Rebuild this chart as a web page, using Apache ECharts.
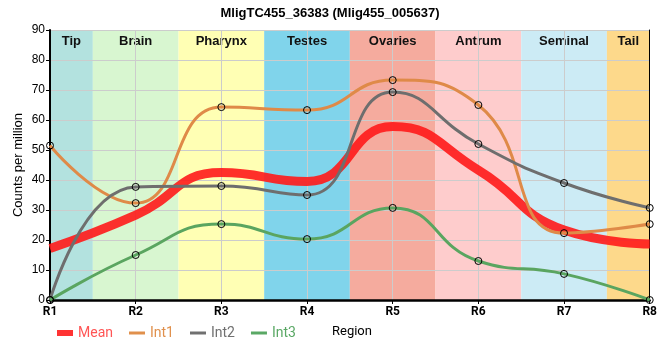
<!DOCTYPE html>
<html>
<head>
<meta charset="utf-8">
<script src="https://cdn.jsdelivr.net/npm/echarts@6/dist/echarts.min.js"></script>
<style>html,body{margin:0;padding:0;background:#fff}#c{width:660px;height:360px}</style>
</head>
<body>
<div id="c"></div>
<script>
var positions = [1, 2, 3, 4, 5, 6, 7, 8];
var tickLabels = ['R1', 'R2', 'R3', 'R4', 'R5', 'R6', 'R7', 'R8'];
var meanValues = [17.2, 28.3, 42.5, 39.5, 57.8, 43.3, 23.3, 18.7];
var int1Values = [51.5, 32.3, 64.3, 63.3, 73.3, 65.0, 22.3, 25.3];
var int2Values = [0, 37.7, 38.0, 35.0, 69.3, 52.0, 39.0, 30.7];
var int3Values = [0, 15.0, 25.3, 20.3, 30.7, 13.0, 8.7, 0];
var bandNames = ['Tip', 'Brain', 'Pharynx', 'Testes', 'Ovaries', 'Antrum', 'Seminal', 'Tail'];
var bandStarts = [1, 1.5, 2.5, 3.5, 4.5, 5.5, 6.5, 7.5];
var bandEnds = [1.5, 2.5, 3.5, 4.5, 5.5, 6.5, 7.5, 8];
var bandColors = ['#b3e2df', '#d8f6d0', '#ffffb4', '#80d4eb', '#f5ab9e', '#fecccc', '#ccebf5', '#fdd98b'];

function pairs(vals) { return positions.map(function (x, i) { return [x, vals[i]]; }); }

var chart = echarts.init(document.getElementById('c'), null, {renderer: 'canvas'});
var font = 'Liberation Sans, Arial, sans-serif';
var font2 = 'Roboto, Liberation Sans, sans-serif';
var markerStyle = {color: 'rgba(0,0,0,0)', borderColor: '#000', borderWidth: 1};

function lineSeries(name, vals, color, width, showSymbol, opacity) {
  return {
    name: name, type: 'line', data: pairs(vals), z: 4,
    smooth: 0.5,
    symbol: showSymbol ? 'circle' : 'none', symbolSize: 7,
    itemStyle: markerStyle,
    lineStyle: {color: color, width: width, opacity: opacity},
    emphasis: {disabled: true}, silent: true
  };
}

var bandData = bandNames.map(function (n, i) {
  return [{name: n, xAxis: bandStarts[i], itemStyle: {color: bandColors[i]}}, {xAxis: bandEnds[i]}];
});

var thin = 'path://M0,0M16,7M0,2H16V5H0Z';
var box = 'path://M0,0.5H16V6.5H0Z';

chart.setOption({
  animation: false,
  title: {text: 'MligTC455_36383 (Mlig455_005637)', left: 'center', top: 2,
    textStyle: {fontFamily: font, fontSize: 13, fontWeight: 'bold', color: '#000'}},
  grid: {left: 50, right: 10, top: 30, bottom: 60},
  xAxis: {type: 'value', min: 1, max: 8, interval: 1, z: 2,
    axisLine: {show: true, onZero: false, lineStyle: {color: '#000', width: 2.5}},
    axisTick: {show: true, length: 4, lineStyle: {color: '#000'}},
    axisLabel: {fontFamily: font2, fontSize: 12, fontWeight: 'bold', color: '#000', margin: 6,
      formatter: function (v) { return tickLabels[positions.indexOf(v)] || ''; }},
    splitLine: {show: true, lineStyle: {color: '#cccccc', width: 1}}},
  yAxis: [{type: 'value', min: 0, max: 90, interval: 10, z: 2,
    name: 'Counts per million', nameLocation: 'middle', nameGap: 25, nameRotate: 90,
    nameMoveOverlap: false,
    nameTextStyle: {fontFamily: font, fontSize: 13, color: '#000'},
    axisLine: {show: true, lineStyle: {color: '#000', width: 2}},
    axisTick: {show: true, length: 4, lineStyle: {color: '#000'}},
    axisLabel: {fontFamily: font, fontSize: 12, color: '#000', margin: 5},
    splitLine: {show: true, lineStyle: {color: '#cccccc', width: 1}}},
   {type: 'value', min: 0, max: 90, position: 'right', z: 2,
    axisLine: {show: true, lineStyle: {color: '#000', width: 1}},
    axisTick: {show: false}, axisLabel: {show: false}, splitLine: {show: false}}],
  legend: {left: 52, top: 321, itemWidth: 16, itemHeight: 7, itemGap: 16,
    textStyle: {fontFamily: font2, fontSize: 14},
    data: [
      {name: 'Mean', icon: box, itemStyle: {color: '#ff3333', borderWidth: 0}, textStyle: {color: '#ff5555'}},
      {name: 'Int1', icon: thin, itemStyle: {color: '#e0904c', borderWidth: 0}, textStyle: {color: '#e0904c'}},
      {name: 'Int2', icon: thin, itemStyle: {color: '#707070', borderWidth: 0}, textStyle: {color: '#707070'}},
      {name: 'Int3', icon: thin, itemStyle: {color: '#5aa865', borderWidth: 0}, textStyle: {color: '#5aa865'}}
    ]},
  graphic: [{type: 'text', left: 332, top: 325,
    style: {text: 'Region', font: '13px Roboto, Liberation Sans, sans-serif', fill: '#000'}}],
  series: [
    {name: 'bands', type: 'line', data: [[1, 0]], symbol: 'none', z: 1, silent: true,
      lineStyle: {opacity: 0},
      markArea: {silent: true, z: 1,
        label: {show: true, position: 'insideTop', distance: 5, fontFamily: font, fontSize: 13,
          fontWeight: 'bold', color: '#111'},
        data: bandData}},
    lineSeries('Mean', meanValues, '#ff1a1a', 9, false, 0.9),
    lineSeries('Int1', int1Values, '#df8a48', 3, true, 1),
    lineSeries('Int2', int2Values, '#6e6e6e', 3, true, 1),
    lineSeries('Int3', int3Values, '#5aa560', 3, true, 1)
  ]
});
</script>
</body>
</html>
